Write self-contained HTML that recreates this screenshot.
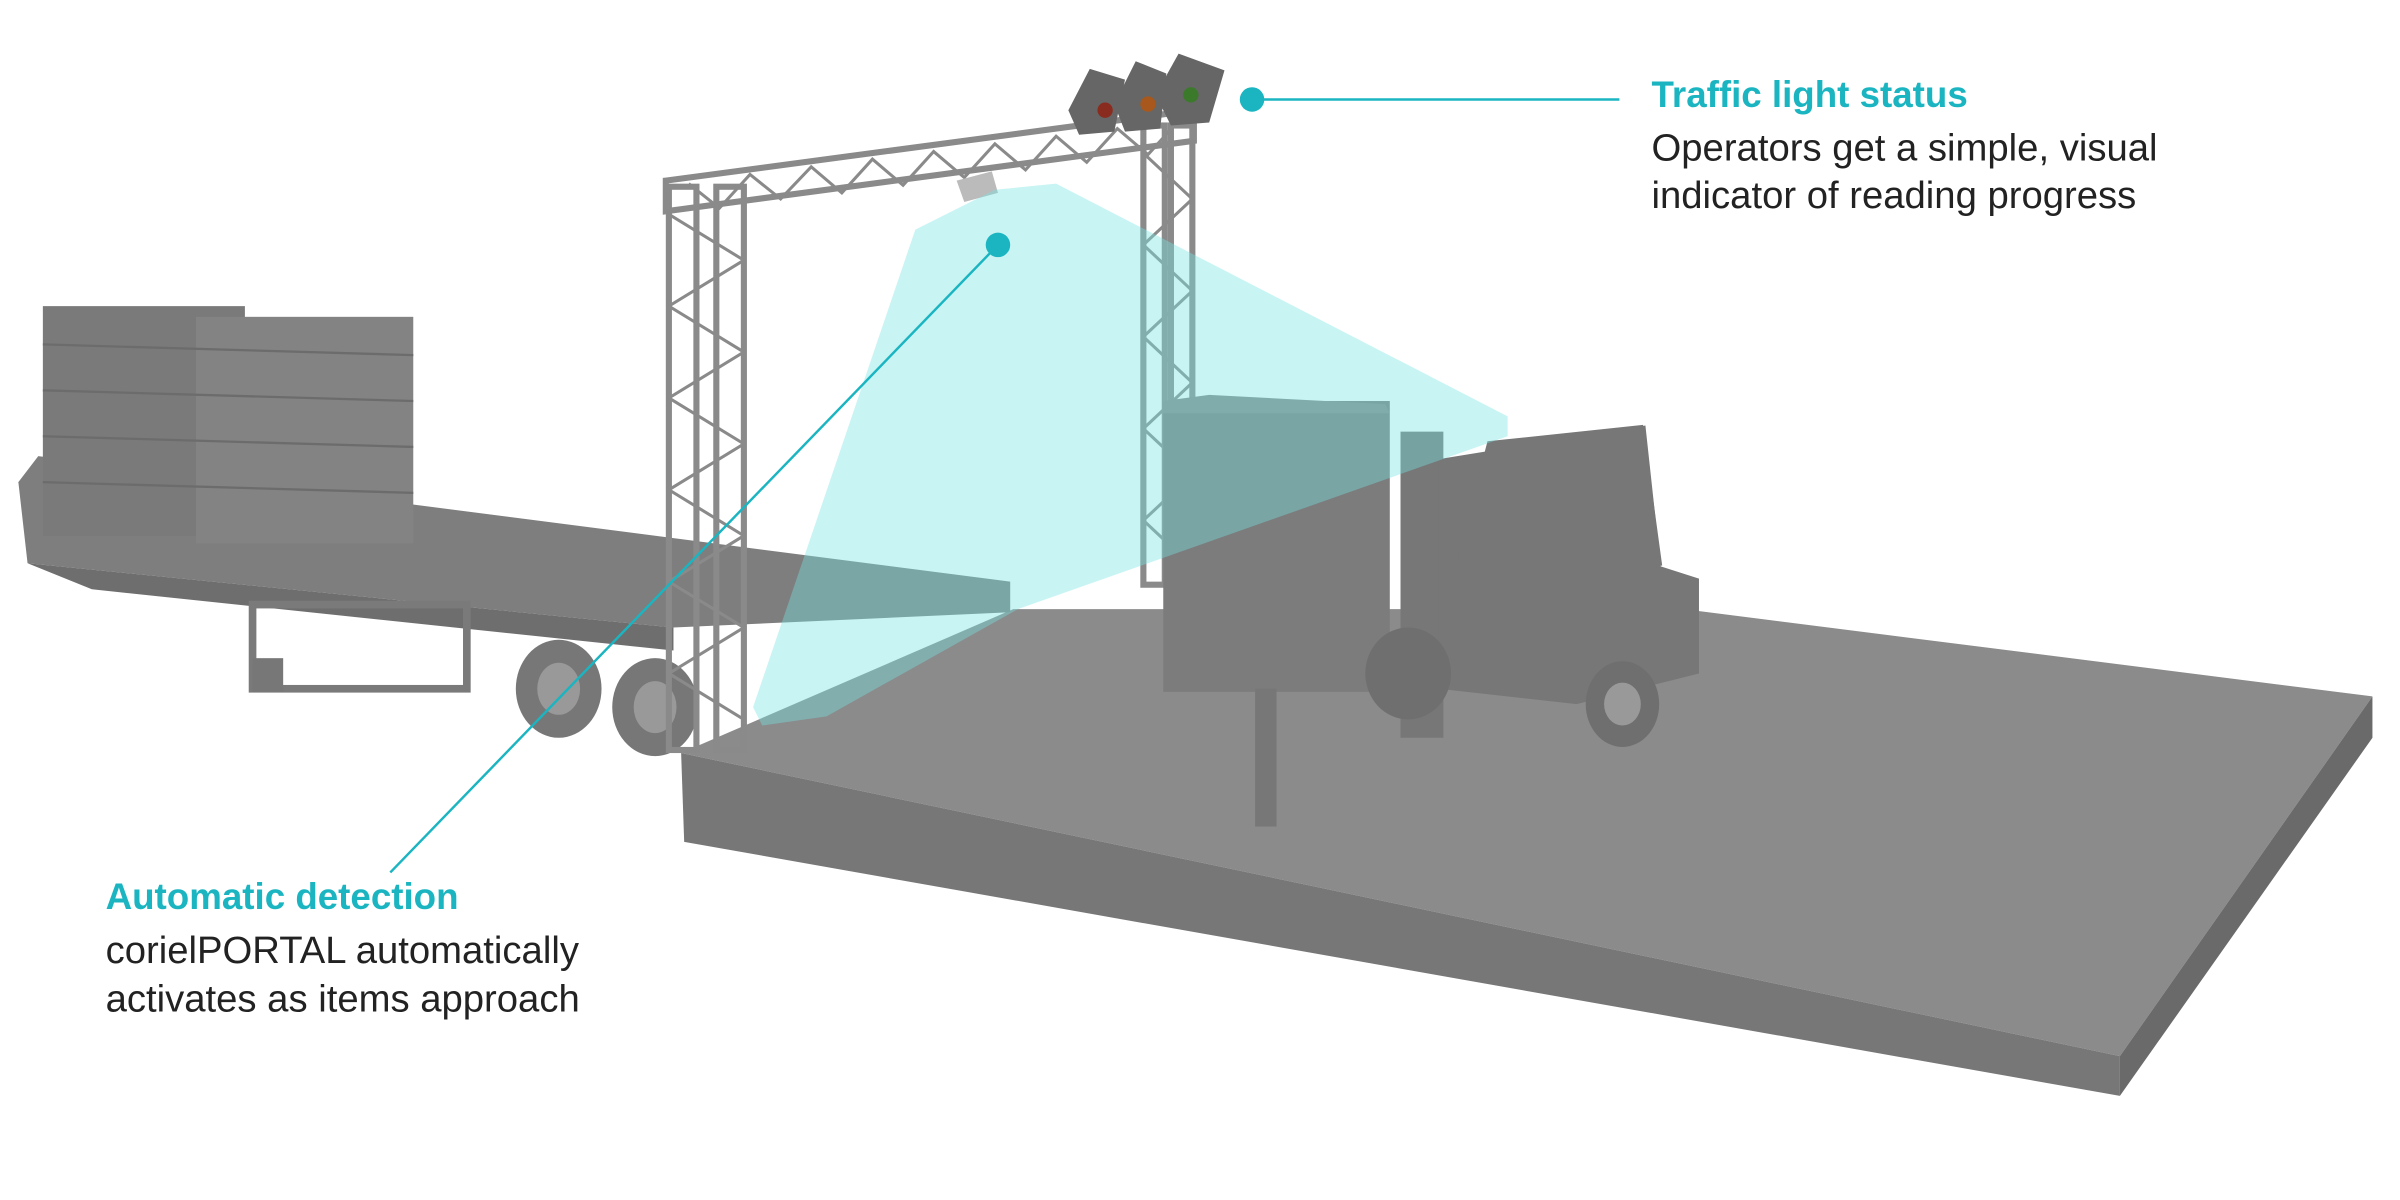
<!DOCTYPE html>
<html><head><meta charset="utf-8"><style>
html,body{margin:0;padding:0;background:#fff;}
svg{display:block}
</style></head><body>
<svg width="2400" height="1200" viewBox="0 0 1568 784" xmlns="http://www.w3.org/2000/svg">
<rect width="1568" height="784" fill="#fff"/>
<!-- platform -->
<polygon points="445,492 662,398 1100,398 1550,455 1385,690" fill="#8b8b8b"/>
<polygon points="445,492 1385,690 1385,716 447,550" fill="#777"/>
<polygon points="1385,690 1550,455 1550,482 1385,716" fill="#6a6a6a"/>
<!-- trailer -->
<polygon points="12,315 25,298 660,380 660,400 440,410 18,368" fill="#7e7e7e"/>
<polygon points="18,368 440,410 440,425 60,385" fill="#6e6e6e"/>
<rect x="165" y="395" width="140" height="55" fill="none" stroke="#7a7a7a" stroke-width="5"/>
<rect x="165" y="430" width="20" height="22" fill="#777"/>
<!-- pallets on trailer -->
<rect x="28" y="200" width="132" height="150" fill="#7a7a7a"/>
<rect x="128" y="207" width="142" height="148" fill="#838383"/>
<g stroke="#6c6c6c" stroke-width="1.5">
<line x1="28" y1="225" x2="270" y2="232"/><line x1="28" y1="255" x2="270" y2="262"/><line x1="28" y1="285" x2="270" y2="292"/><line x1="28" y1="315" x2="270" y2="322"/>
</g>
<!-- wheels -->
<ellipse cx="365" cy="450" rx="28" ry="32" fill="#777"/><ellipse cx="365" cy="450" rx="14" ry="17" fill="#999"/>
<ellipse cx="428" cy="462" rx="28" ry="32" fill="#777"/><ellipse cx="428" cy="462" rx="14" ry="17" fill="#999"/>
<!-- portal -->
<g fill="none" stroke="#8a8a8a" stroke-width="4">
<rect x="437" y="122" width="18" height="368"/><rect x="468" y="122" width="18" height="368"/>
<rect x="747" y="82" width="14" height="300"/><rect x="765" y="82" width="14" height="300"/>
<polygon points="435,118 780,72 780,92 435,138"/>
</g>
<g stroke="#8a8a8a" stroke-width="2" fill="none">
<path d="M437,140 L486,170 L437,200 L486,230 L437,260 L486,290 L437,320 L486,350 L437,380 L486,410 L437,440 L486,470"/>
<path d="M747,100 L779,130 L747,160 L779,190 L747,220 L779,250 L747,280 L779,310 L747,340 L779,370"/>
<path d="M450,120 L470,136 L490,114 L510,130 L530,109 L550,126 L570,104 L590,121 L610,99 L630,116 L650,94 L670,111 L690,89 L710,106 L730,84 L750,101 L770,79"/>
</g>
<polygon points="625,118 648,112 652,126 630,132" fill="#bbb"/>
<!-- pallets on forklift -->
<rect x="760" y="262" width="148" height="190" fill="#7c7c7c"/>
<polygon points="760,262 790,258 905,264 908,270 760,270" fill="#888"/>
<!-- forklift -->
<g fill="#777">
<rect x="915" y="282" width="28" height="200"/>
<polygon points="940,300 1075,278 1085,370 1110,378 1110,440 1030,460 940,450"/>
<rect x="820" y="450" width="14" height="90"/>
</g>
<g fill="none" stroke="#777" stroke-width="8"><path d="M955,370 L975,292 L1070,282 L1082,370"/></g>
<ellipse cx="920" cy="440" rx="28" ry="30" fill="#6f6f6f"/>
<ellipse cx="1060" cy="460" rx="24" ry="28" fill="#6f6f6f"/><ellipse cx="1060" cy="460" rx="12" ry="14" fill="#999"/>
<!-- cyan beam -->
<polygon points="598,150 650,124 690,120 985,272 985,285 665,398 540,468 498,474 492,462" fill="rgba(120,228,228,0.4)"/>
<!-- traffic lights -->
<g>
<polygon points="698,72 712,45 735,52 728,86 705,88" fill="#666"/>
<polygon points="728,68 742,40 762,48 758,84 735,86" fill="#666"/>
<polygon points="755,62 770,35 800,46 790,80 765,82" fill="#666"/>
<circle cx="722" cy="72" r="5" fill="#8a2b20"/><circle cx="750" cy="68" r="5" fill="#a8581c"/><circle cx="778" cy="62" r="5" fill="#3b7a2a"/>
</g>
<!-- callouts -->
<g stroke="#1ab5c1" stroke-width="1.6"><line x1="818" y1="65" x2="1058" y2="65"/><line x1="652" y1="160" x2="255" y2="570"/></g>
<circle cx="818" cy="65" r="8" fill="#1ab5c1"/><circle cx="652" cy="160" r="8" fill="#1ab5c1"/>
<g font-family="Liberation Sans, sans-serif">
<text x="1079" y="70" fill="#1ab5c1" font-weight="bold" font-size="24">Traffic light status</text>
<text x="1079" y="105" fill="#222" font-size="25">Operators get a simple, visual</text>
<text x="1079" y="136" fill="#222" font-size="25">indicator of reading progress</text>
<text x="69" y="594" fill="#1ab5c1" font-weight="bold" font-size="24">Automatic detection</text>
<text x="69" y="629" fill="#222" font-size="25">corielPORTAL automatically</text>
<text x="69" y="661" fill="#222" font-size="25">activates as items approach</text>
</g>
</svg>
</body></html>
